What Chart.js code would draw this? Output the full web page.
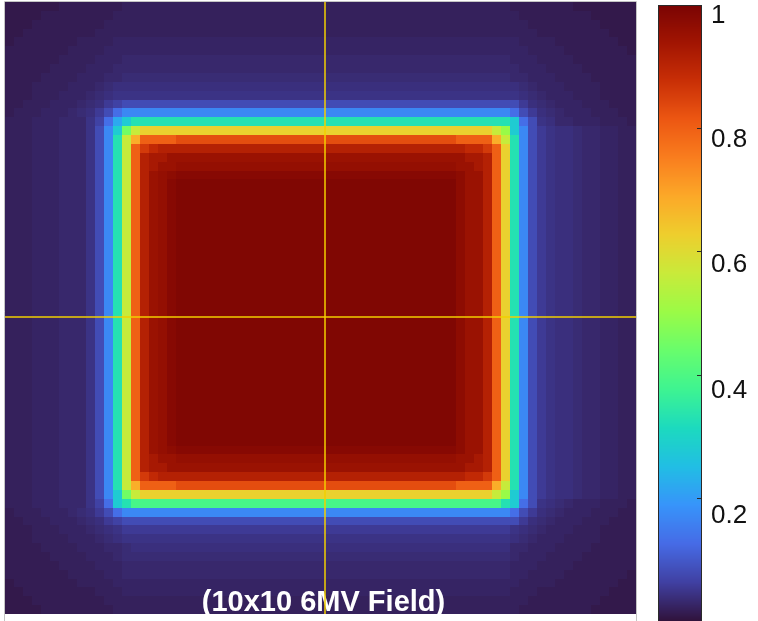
<!DOCTYPE html>
<html>
<head>
<meta charset="utf-8">
<title>10x10 6MV Field</title>
<script src="https://cdn.jsdelivr.net/npm/chart.js@4.4.1/dist/chart.umd.min.js"></script>
<style>
  html, body { margin: 0; padding: 0; background: #ffffff; }
  #wrap { position: relative; width: 758px; height: 621px; overflow: hidden; }
  canvas { display: block; }
</style>
</head>
<body>
<div id="wrap"><canvas id="chart" width="758" height="621"></canvas></div>
<script>
// Relative dose levels, addressed by one character each.
const levelCodes = "0123456789ABCDEFGHIJKLMNOPQRSTUVWXYZ";
const levelValues = [
  0.010, 0.015, 0.020, 0.025, 0.030, 0.035, 0.040, 0.045, 0.055, 0.065,
  0.08, 0.10, 0.13, 0.17, 0.22, 0.28, 0.33, 0.39, 0.45, 0.50,
  0.56, 0.62, 0.68, 0.74, 0.80, 0.83, 0.86, 0.89, 0.91, 0.93,
  0.95, 0.96, 0.97, 0.98, 0.99, 1.00
];

// Dose map, top row first; one character per column, '|' only groups columns for reading.
const doseRows = [
  "00000011111|1122222222|222222222|222222222|222222222|2222222211|111110000000",
  "00001111111|1222222222|222222222|222222222|222222222|2222222221|111111100000",
  "00011111111|2222222222|222222222|222222222|222222222|2222222222|111111110000",
  "00111111112|2222222222|222222222|222222222|222222222|2222222222|211111111000",
  "01111111222|2333333333|333333333|333333333|333333333|3333333332|222111111100",
  "11111112222|3333333333|333333333|333333333|333333333|3333333333|222211111110",
  "11111122223|3344444444|444444444|444444444|444444444|4444444433|322221111111",
  "11111222233|3444444444|444444444|444444444|444444444|4444444443|332222111111",
  "11112222333|4455555555|555555555|555555555|555555555|5555555544|333222211111",
  "11122223334|5666666666|666666666|666666666|666666666|6666666665|433322221111",
  "11122233345|6777777777|777777777|777777777|777777777|7777777776|543332221111",
  "11222333456|89AAAAAAAA|AAAAAAAAA|AAAAAAAAA|AAAAAAAAA|AAAAAAAAA8|654333222111",
  "12223334568|ACDDDDDDDD|DDDDDDDDD|DDDDDDDDD|DDDDDDDDD|DDDDDDDDCA|865433322211",
  "22233344479|CEFGGGGGGG|GGGGGGGGG|GGGGGGGGG|GGGGGGGGG|GGGGGGGGFC|A76443332221",
  "2223334447A|DFIKLLLLLL|LLLLLLLLL|LLLLLLLLL|LLLLLLLLL|LLLLLLKJFD|A87665443322",
  "2223334447A|DGKMOOOOPP|PPPPPPPPP|PPPPPPPPP|PPPPPPPPP|PPOOOOMKGD|A87665443322",
  "2223334447A|DGKOQRSSSS|SSSSSSSSS|SSSSSSSSS|SSSSSSSSS|SSSRRQOLGD|A87665443322",
  "2223334447A|DGKOSTTUUU|UUUUUUUUU|UUUUUUUUU|UUUUUUUUU|UUUTTSOLGD|A87665443322",
  "2223334447A|DGKOSTUUVV|VVVVVVVVV|VVVVVVVVV|VVVVVVVVV|VVUUTSOLGD|A87665443322",
  "2223334447A|DGKOSUVWXX|XXXXXXXXX|XXXXXXXXX|XXXXXXXXX|XXWUUSOLGD|A87665443322",
  "2223334447A|DGKOSUVXYY|YYYYYYYYY|YYYYYYYYY|YYYYYYYYY|YYWUUSOLGD|A87665443322",
  "2223334447A|DGKOSUVXYY|YYYYYYYYY|YYYYYYYYY|YYYYYYYYY|YYWUUSOLGD|A87665443322",
  "2223334447A|DGKOSUVXYY|YYYYYYYYY|YYYYYYYYY|YYYYYYYYY|YYWUUSOLGD|A87665443322",
  "2223334447A|DGKOSUVXYY|YYYYYYYYY|YYYYYYYYY|YYYYYYYYY|YYWUUSOLGD|A87665443322",
  "2223334447A|DGKOSUVXYY|YYYYYYYYY|YYYYYYYYY|YYYYYYYYY|YYWUUSOLGD|A87665443322",
  "2223334447A|DGKOSUVXYY|YYYYYYYYY|YYYYYYYYY|YYYYYYYYY|YYWUUSOLGD|A87665443322",
  "2223334447A|DGKOSUVXYY|YYYYYYYYY|YYYYYYYYY|YYYYYYYYY|YYWUUSOLGD|A87665443322",
  "2223334447A|DGKOSUVXYY|YYYYYYYYY|YYYYYYYYY|YYYYYYYYY|YYWUUSOLGD|A87665443322",
  "2223334447A|DGKOSUVXYY|YYYYYYYYY|YYYYYYYYY|YYYYYYYYY|YYWUUSOLGD|A87665443322",
  "2223334447A|DGKOSUVXYY|YYYYYYYYY|YYYYYYYYY|YYYYYYYYY|YYWUUSOLGD|A87665443322",
  "2223334447A|DGKOSUVXYY|YYYYYYYYY|YYYYYYYYY|YYYYYYYYY|YYWUUSOLGD|A87665443322",
  "2223334447A|DGKOSUVXYY|YYYYYYYYY|YYYYYYYYY|YYYYYYYYY|YYWUUSOLGD|A87665443322",
  "2223334447A|DGKOSUVXYY|YYYYYYYYY|YYYYYYYYY|YYYYYYYYY|YYWUUSOLGD|A87665443322",
  "2223334447A|DGKOSUVXYY|YYYYYYYYY|YYYYYYYYY|YYYYYYYYY|YYWUUSOLGD|A87665443322",
  "2223334447A|DGKOSUVXYY|YYYYYYYYY|YYYYYYYYY|YYYYYYYYY|YYWUUSOLGD|A87665443322",
  "2223334447A|DGKOSUVXYY|YYYYYYYYY|YYYYYYYYY|YYYYYYYYY|YYWUUSOLGD|A87665443322",
  "2223334447A|DGKOSUVXYY|YYYYYYYYY|YYYYYYYYY|YYYYYYYYY|YYWUUSOLGD|A87665443322",
  "2223334447A|DGKOSUVXYY|YYYYYYYYY|YYYYYYYYY|YYYYYYYYY|YYWUUSOLGD|A87665443322",
  "2223334447A|DGKOSUVXYY|YYYYYYYYY|YYYYYYYYY|YYYYYYYYY|YYWUUSOLGD|A87665443322",
  "2223334447A|DGKOSUVXYY|YYYYYYYYY|YYYYYYYYY|YYYYYYYYY|YYWUUSOLGD|A87665443322",
  "2223334447A|DGKOSUVXYY|YYYYYYYYY|YYYYYYYYY|YYYYYYYYY|YYWUUSOLGD|A87665443322",
  "2223334447A|DGKOSUVXYY|YYYYYYYYY|YYYYYYYYY|YYYYYYYYY|YYWUUSOLGD|A87665443322",
  "2223334447A|DGKOSUVXYY|YYYYYYYYY|YYYYYYYYY|YYYYYYYYY|YYWUUSOLGD|A87665443322",
  "2223334447A|DGKOSUVXYY|YYYYYYYYY|YYYYYYYYY|YYYYYYYYY|YYWUUSOLGD|A87665443322",
  "2223334447A|DGKOSUVXYY|YYYYYYYYY|YYYYYYYYY|YYYYYYYYY|YYWUUSOLGD|A87665443322",
  "2223334447A|DGKOSUVXYY|YYYYYYYYY|YYYYYYYYY|YYYYYYYYY|YYWUUSOLGD|A87665443322",
  "2223334447A|DGKOSUVXYY|YYYYYYYYY|YYYYYYYYY|YYYYYYYYY|YYWUUSOLGD|A87665443322",
  "2223334447A|DGKOSUVXYY|YYYYYYYYY|YYYYYYYYY|YYYYYYYYY|YYWUUSOLGD|A87665443322",
  "2223334447A|DGKOSUVXYY|YYYYYYYYY|YYYYYYYYY|YYYYYYYYY|YYWUUSOLGD|A87665443322",
  "2223334447A|DGKOSUVXYY|YYYYYYYYY|YYYYYYYYY|YYYYYYYYY|YYWUUSOLGD|A87665443322",
  "2223334447A|DGKOSUVWXX|XXXXXXXXX|XXXXXXXXX|XXXXXXXXX|XXWUUSOLGD|A87665443322",
  "2223334447A|DGKOSTUUVV|VVVVVVVVV|VVVVVVVVV|VVVVVVVVV|VVUUTSOLGD|A87665443322",
  "2223334447A|DGKOSTTUUU|UUUUUUUUU|UUUUUUUUU|UUUUUUUUU|UUUTTSOLGD|A87665443322",
  "2223334447A|DGKOQRSSSS|SSSSSSSSS|SSSSSSSSS|SSSSSSSSS|SSSRRQOLGD|A87665443322",
  "2223334447A|DGKMOOOOPP|PPPPPPPPP|PPPPPPPPP|PPPPPPPPP|PPOOOOMKGD|A87665443322",
  "2223334447A|DFIKLLLLLL|LLLLLLLLL|LLLLLLLLL|LLLLLLLLL|LLLLLLKJFD|A87665443322",
  "22233344479|CFGHHHHHHH|HHHHHHHHH|HHHHHHHHH|HHHHHHHHH|HHHHHHHGFC|A76543332221",
  "12223334568|ACDDDDDDDD|DDDDDDDDD|DDDDDDDDD|DDDDDDDDD|DDDDDDDDCA|865433322211",
  "11222333456|89AAAAAAAA|AAAAAAAAA|AAAAAAAAA|AAAAAAAAA|AAAAAAAAA8|654333222111",
  "11122233345|6788888888|888888888|888888888|888888888|8888888876|543332221111",
  "11122223334|5677777777|777777777|777777777|777777777|7777777765|433322221111",
  "11112222333|4456666666|666666666|666666666|666666666|6666666644|333222211111",
  "11111222233|3455555555|555555555|555555555|555555555|5555555543|332222111111",
  "11111122223|3344444444|444444444|444444444|444444444|4444444433|322221111111",
  "11111112222|3344444444|444444444|444444444|444444444|4444444433|222211111110",
  "01111111222|2333333333|333333333|333333333|333333333|3333333332|222111111100",
  "00111111112|2233333333|333333333|333333333|333333333|3333333322|211111111000",
  "00011111111|2222222222|222222222|222222222|222222222|2222222222|111111110000",
  "00001111111|1222222222|222222222|222222222|222222222|2222222221|111111100000"
];

const colorbarTicks = [1, 0.8, 0.6, 0.4, 0.2];
const colorbarTickLabels = ["1", "0.8", "0.6", "0.4", "0.2"];
const crosshairCol = 35;
const crosshairRow = 35;
const fieldLabel = "(10x10 6MV Field)";

// Turbo colormap stops: [position, r, g, b]
const turboStops = [
  [0 / 255, 48, 18, 59],
  [16 / 255, 64, 64, 162],
  [32 / 255, 70, 107, 230],
  [48 / 255, 55, 148, 250],
  [64 / 255, 33, 190, 228],
  [80 / 255, 28, 218, 190],
  [96 / 255, 62, 244, 145],
  [112 / 255, 104, 253, 108],
  [128 / 255, 155, 251, 70],
  [144 / 255, 201, 234, 58],
  [160 / 255, 238, 206, 45],
  [176 / 255, 252, 168, 40],
  [192 / 255, 249, 125, 30],
  [208 / 255, 236, 86, 18],
  [224 / 255, 200, 46, 6],
  [240 / 255, 160, 20, 2],
  [255 / 255, 122, 4, 3]
];

function turbo(v) {
  const t = Math.min(1, Math.max(0, v));
  for (let i = 1; i < turboStops.length; i++) {
    const a = turboStops[i - 1], b = turboStops[i];
    if (t <= b[0]) {
      const f = (t - a[0]) / (b[0] - a[0]);
      const r = Math.round(a[1] + (b[1] - a[1]) * f);
      const g = Math.round(a[2] + (b[2] - a[2]) * f);
      const bl = Math.round(a[3] + (b[3] - a[3]) * f);
      return "rgb(" + r + "," + g + "," + bl + ")";
    }
  }
  const last = turboStops[turboStops.length - 1];
  return "rgb(" + last[1] + "," + last[2] + "," + last[3] + ")";
}

const grid = doseRows.map((row, i) => {
  const codes = row.replace(/\|/g, "");
  if (codes.length !== 70) throw new Error("dose row " + i + " has " + codes.length + " cells");
  return Array.from(codes, ch => levelValues[levelCodes.indexOf(ch)]);
});
const nRows = grid.length;
const nCols = grid[0].length;

// Draws the dose cells through the x / y scales, then the field caption and frame.
const heatmapPlugin = {
  id: "doseHeatmap",
  beforeDatasetsDraw(chart) {
    const { ctx, chartArea } = chart;
    const xs = chart.scales.x, ys = chart.scales.y;
    ctx.save();
    ctx.beginPath();
    ctx.rect(chartArea.left, chartArea.top, chartArea.right - chartArea.left, chart.height - chartArea.top);
    ctx.clip();
    for (let r = 0; r < nRows; r++) {
      const ya = Math.round(ys.getPixelForValue(r - 0.5));
      const yb = Math.round(ys.getPixelForValue(r + 0.5));
      const top = Math.min(ya, yb), h = Math.abs(yb - ya);
      for (let c = 0; c < nCols; c++) {
        const xa = Math.round(xs.getPixelForValue(c - 0.5));
        const xb = Math.round(xs.getPixelForValue(c + 0.5));
        ctx.fillStyle = turbo(grid[r][c]);
        ctx.fillRect(xa, top, xb - xa, h);
      }
    }
    ctx.font = 'bold 29px "Liberation Sans", Arial, Helvetica, sans-serif';
    ctx.fillStyle = "#ffffff";
    ctx.textAlign = "center";
    ctx.textBaseline = "alphabetic";
    ctx.fillText(fieldLabel, (chartArea.left + chartArea.right) / 2 + 3, chartArea.bottom - 10);
    ctx.restore();

    ctx.save();
    ctx.strokeStyle = "#c4c4c4";
    ctx.lineWidth = 1;
    ctx.beginPath();
    ctx.moveTo(chartArea.left - 0.5, chart.height);
    ctx.lineTo(chartArea.left - 0.5, chartArea.top - 0.5);
    ctx.lineTo(chartArea.right + 0.5, chartArea.top - 0.5);
    ctx.lineTo(chartArea.right + 0.5, chart.height);
    ctx.stroke();
    ctx.restore();
  }
};

// Colour bar placed on the right, positioned with the hidden "cb" scale.
const colorbarPlugin = {
  id: "colorbar",
  afterDraw(chart) {
    const { ctx, chartArea } = chart;
    const cb = chart.scales.cb;
    const left = chartArea.right + 22;
    const width = 44;
    const top = cb.getPixelForValue(1);
    const bottom = cb.getPixelForValue(0);
    ctx.save();
    for (let py = Math.floor(top); py < Math.ceil(bottom); py++) {
      ctx.fillStyle = turbo(cb.getValueForPixel(py + 0.5));
      ctx.fillRect(left, py, width, 1);
    }
    ctx.strokeStyle = "#2a2a2a";
    ctx.lineWidth = 1;
    ctx.strokeRect(left + 0.5, Math.round(top) + 0.5, width - 1, Math.round(bottom - top) + 2);

    ctx.font = '26px "Liberation Sans", Arial, Helvetica, sans-serif';
    ctx.fillStyle = "#111111";
    ctx.textAlign = "left";
    ctx.textBaseline = "alphabetic";
    colorbarTicks.forEach((v, i) => {
      const py = Math.round(cb.getPixelForValue(v)) + 0.5;
      ctx.beginPath();
      ctx.moveTo(left + width - 5, py);
      ctx.lineTo(left + width, py);
      ctx.stroke();
      ctx.fillText(colorbarTickLabels[i], left + width + 9, py + 17 + (py - top) * 0.0146);
    });
    ctx.restore();
  }
};

const crossColor = "#f2cf00";

new Chart(document.getElementById("chart"), {
  type: "scatter",
  data: {
    datasets: [
      {
        data: [{ x: crosshairCol, y: -0.5 }, { x: crosshairCol, y: nRows - 0.5 }],
        showLine: true, borderColor: crossColor, borderWidth: 1.5,
        pointRadius: 0, fill: false
      },
      {
        data: [{ x: -0.5, y: crosshairRow }, { x: nCols - 0.5, y: crosshairRow }],
        showLine: true, borderColor: crossColor, borderWidth: 1.5,
        pointRadius: 0, fill: false
      }
    ]
  },
  options: {
    responsive: false,
    animation: false,
    devicePixelRatio: 1,
    events: [],
    layout: { padding: { left: 5, top: 2, right: 122, bottom: 0 } },
    plugins: { legend: { display: false }, tooltip: { enabled: false }, title: { display: false } },
    scales: {
      x: { type: "linear", min: -0.5, max: 69.5, display: false },
      y: { type: "linear", reverse: true, min: -0.5, max: 69.28, display: false },
      cb: { type: "linear", axis: "y", position: "right", min: 0, max: 1.005, display: false }
    }
  },
  plugins: [heatmapPlugin, colorbarPlugin]
});
</script>
</body>
</html>
